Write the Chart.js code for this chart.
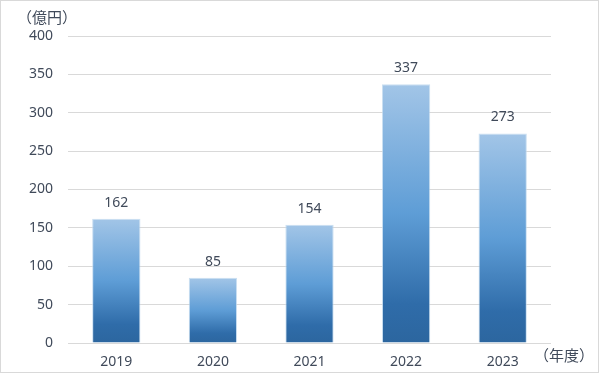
<!DOCTYPE html>
<html><head><meta charset="utf-8">
<script src="https://cdn.jsdelivr.net/npm/chart.js@4/dist/chart.umd.min.js"></script>
<style>html,body{margin:0;padding:0;background:#fff;}#wrap{width:608px;height:375px;position:relative;}</style>
</head><body><div id="wrap"><canvas id="c" width="608" height="375"></canvas></div>
<script>
const categories = ['2019', '2020', '2021', '2022', '2023'];
const values = [162, 85, 154, 337, 273];
const yTicks = [0, 50, 100, 150, 200, 250, 300, 350, 400];
const unitY = '（億円）';
const unitX = '（年度）';

const textColor = '#404a5a';
const fontFam = '"Noto Sans", "Noto Sans CJK JP", sans-serif';

const extras = {
  id: 'extras',
  beforeDraw(chart) {
    const ctx = chart.ctx;
    ctx.save();
    ctx.fillStyle = '#fff';
    ctx.fillRect(0, 0, chart.width, chart.height);
    ctx.strokeStyle = '#D9D9D9';
    ctx.lineWidth = 1;
    ctx.strokeRect(0.5, 0.5, 598, 372);
    ctx.restore();
  },
  afterDatasetsDraw(chart) {
    const ctx = chart.ctx;
    ctx.save();
    ctx.fillStyle = textColor;
    ctx.font = '14px ' + fontFam;
    ctx.textAlign = 'center';
    ctx.textBaseline = 'middle';
    const meta = chart.getDatasetMeta(0);
    meta.data.forEach((bar, i) => {
      ctx.fillText(String(values[i]), bar.x, bar.y - 16);
    });
    ctx.font = '15px "Noto Sans CJK JP", sans-serif';
    ctx.textAlign = 'left';
    ctx.fillText(unitY, 17, 17);
    ctx.fillText(unitX, 534, 355);
    ctx.restore();
  }
};

new Chart(document.getElementById('c'), {
  type: 'bar',
  data: {
    labels: categories,
    datasets: [{
      data: values,
      backgroundColor(c) {
        const chart = c.chart;
        const y = chart.scales && chart.scales.y;
        if (!y || c.raw === undefined) return '#5B9BD5';
        const top = y.getPixelForValue(c.raw);
        const base = y.getPixelForValue(0);
        if (!isFinite(top) || !isFinite(base) || top === base) return '#5B9BD5';
        const g = chart.ctx.createLinearGradient(0, top, 0, base);
        g.addColorStop(0, '#A2C5E7');
        g.addColorStop(0.5, '#5E9DD6');
        g.addColorStop(0.85, '#2F6CA9');
        g.addColorStop(1, '#2C669F');
        return g;
      },
      borderColor: 'rgba(189,215,238,0.8)',
      borderWidth: 1,
      categoryPercentage: 1,
      barPercentage: 0.5
    }]
  },
  options: {
    responsive: false,
    animation: false,
    events: [],
    layout: { padding: { left: 10, top: 36, right: 57, bottom: 0 } },
    plugins: { legend: { display: false }, tooltip: { enabled: false } },
    scales: {
      x: {
        grid: { display: false, drawTicks: false },
        border: { display: false },
        ticks: { color: textColor, font: { family: fontFam, size: 14 }, padding: 11, maxRotation: 0 },
        afterFit(s) { s.height = 32; }
      },
      y: {
        min: 0, max: 400,
        grid: { color: '#D9D9D9', drawTicks: false },
        border: { display: false },
        afterBuildTicks(s) { s.ticks = yTicks.map(v => ({ value: v })); },
        ticks: { color: textColor, font: { family: fontFam, size: 14 }, padding: 15 },
        afterFit(s) { s.width = 58; }
      }
    }
  },
  plugins: [extras]
});
</script></body></html>
